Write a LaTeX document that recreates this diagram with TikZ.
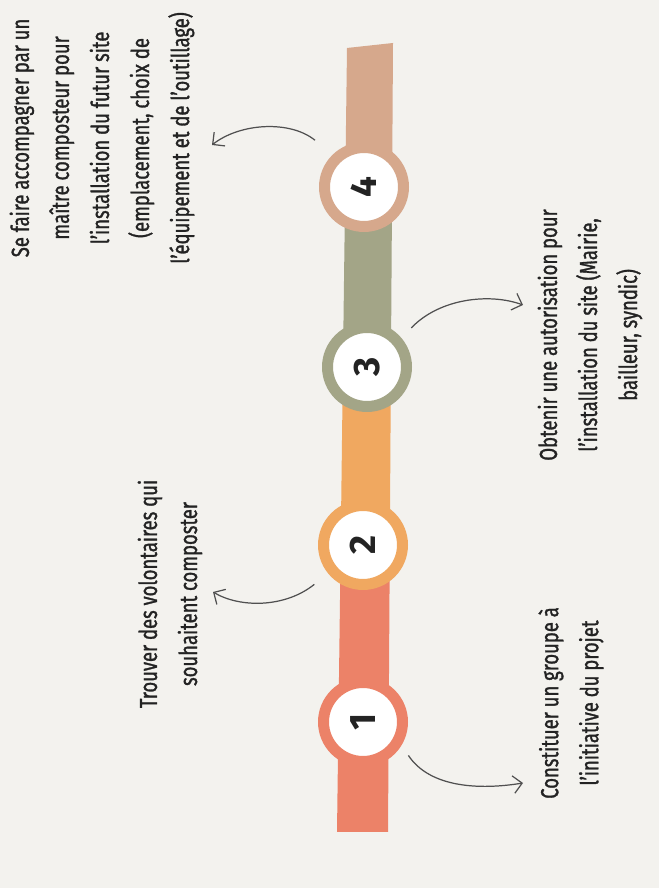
\documentclass[tikz,border=0pt]{standalone}
\usepackage{fontspec}
\setmainfont{Fira Sans}[FakeStretch=0.75, FakeBold=1.2]
\newfontfamily\numfont{Fira Sans}
\usepackage{tikz}
\usetikzlibrary{arrows.meta}
\definecolor{paper}{RGB}{243, 242, 238}
\definecolor{coral}{RGB}{236, 130, 104}
\definecolor{apricot}{RGB}{240, 168, 96}
\definecolor{sage}{RGB}{163, 165, 135}
\definecolor{tan}{RGB}{214, 168, 140}
\definecolor{ink}{RGB}{35, 35, 35}
\definecolor{pencil}{RGB}{80, 80, 80}

\begin{document}
\begin{tikzpicture}[x=0.02cm, y=0.02cm,
  ring/.style={circle, draw=#1, line width=0.22cm, fill=white, inner sep=0,
    minimum size=1.58cm, rotate=90, font=\numfont\fontsize{21}{21}\bfseries, text=ink},
  note/.style={rotate=90, align=center, inner sep=0, text=ink,
    font=\fontsize{14}{22.8}\selectfont},
  curl/.style={draw=pencil, line width=0.7pt, -{Straight Barb[length=5pt, width=10pt]}}]
  \fill [paper] (0, 0) rectangle (659, 888);

  % the band, one colour per step
  \fill [coral] (337, 56) -- (388, 56) -- (389.8, 343) -- (340.7, 343) -- cycle;
  \fill [apricot] (340.7, 343) -- (389.8, 343) -- (390.9, 521) -- (342.9, 521) -- cycle;
  \fill [sage] (342.9, 521) -- (390.9, 521) -- (392.1, 701) -- (345.2, 701) -- cycle;
  \fill [tan] (345.2, 701) -- (392.1, 701) -- (393, 845) -- (347, 840) -- cycle;

  \node [ring=coral] (s1) at (363, 166) { 1 };
  \node [ring=apricot] (s2) at (363, 343) { 2 };
  \node [ring=sage] (s3) at (367, 521) { 3 };
  \node [ring=tan] (s4) at (364, 701) { 4 };

  \node [note] (t1) at (571, 185) { Constituer un groupe à \\ l'initiative du projet };
  \node [note] (t2) at (170, 294) { Trouver des volontaires qui \\ souhaitent composter };
  \node [note] (t3) at (590, 553) { Obtenir une autorisation pour \\ l'installation du site (Mairie, \\ bailleur, syndic) };
  \node [note] (t4) at (102, 750) { Se faire accompagner par un \\ maître composteur pour \\
    l'installation du futur site \\ (emplacement, choix de \\ l'équipement et de l'outillage) };

  \coordinate (e1) at (523, 105);
  \coordinate (e2) at (213, 296);
  \coordinate (e3) at (523, 583);
  \coordinate (e4) at (212, 743);

  % ring anchors turn with the node (rotate=90)
  \draw [curl, shorten <=7pt] (s1.-121) .. controls (430, 100) and (480, 98) .. (e1);
  \draw [curl, shorten <=10pt] (s2.129) .. controls (285, 280) and (240, 280) .. (e2);
  \draw [curl, shorten <=8pt] (s3.-50) .. controls (440, 590) and (490, 595) .. (e3);
  \draw [curl, shorten <=13pt] (s4.44) .. controls (290, 768) and (240, 765) .. (e4);
\end{tikzpicture}
\end{document}
